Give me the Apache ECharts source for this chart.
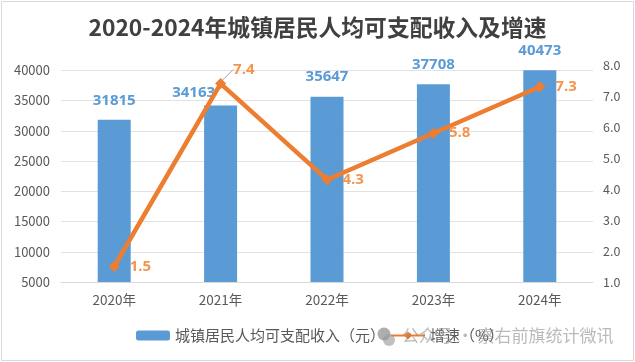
<!DOCTYPE html>
<html>
<head>
<meta charset="utf-8">
<style>
  html, body { margin: 0; padding: 0; background: #fff; }
  #chart { width: 635px; height: 362px; }
</style>
<script src="https://cdn.jsdelivr.net/npm/echarts@6/dist/echarts.min.js"></script>
</head>
<body>
<div id="chart"></div>
<script>
const years = ['2020年', '2021年', '2022年', '2023年', '2024年'];
const income = [31815, 34163, 35647, 37708, 40473];
const growth = [1.5, 7.4, 4.3, 5.8, 7.3];

const cjk = '"Noto Sans CJK SC", sans-serif';
const blue = '#5b9bd5';
const orange = '#ed7d31';

const chart = echarts.init(document.getElementById('chart'), null, { renderer: 'canvas' });

chart.setOption({
  animation: false,
  backgroundColor: '#fff',
  textStyle: { fontFamily: cjk },
  title: {
    text: '2020-2024年城镇居民人均可支配收入及增速',
    left: 'center',
    top: 11,
    textStyle: { fontFamily: cjk, fontSize: 22.8, fontWeight: 'bold', color: '#404040' },
  },
  legend: {
    bottom: 14,
    left: 131,
    itemGap: 5,
    itemWidth: 34,
    itemHeight: 10,
    textStyle: { color: '#595959', fontSize: 15, fontFamily: cjk },
    data: ['城镇居民人均可支配收入（元）', '增速（%）'],
  },
  grid: [
    { left: 61, right: 42, top: 70.3, bottom: 80 },
    { left: 61, right: 42, top: 65, bottom: 80 },
  ],
  xAxis: [
    {
      type: 'category',
      gridIndex: 0,
      data: years,
      axisTick: { show: false },
      axisLine: { lineStyle: { color: '#d9d9d9' } },
      axisLabel: { color: '#595959', fontSize: 13.5, margin: 11 },
    },
    { type: 'category', gridIndex: 1, data: years, show: false },
  ],
  yAxis: [
    {
      type: 'value',
      gridIndex: 0,
      min: 5000,
      max: 40000,
      interval: 5000,
      axisLine: { show: false },
      axisTick: { show: false },
      axisLabel: {
        color: '#595959',
        fontSize: 13,
        margin: 11,
        formatter: v => String(v),
      },
      splitLine: { lineStyle: { color: '#e2e2e2', width: 1 } },
    },
    {
      type: 'value',
      gridIndex: 1,
      position: 'right',
      min: 1,
      max: 8,
      interval: 1,
      axisLine: { show: false },
      axisTick: { show: false },
      splitLine: { show: false },
      axisLabel: { color: '#595959', fontSize: 12.5, margin: 10, formatter: v => v.toFixed(1) },
    },
  ],
  series: [
    {
      name: '城镇居民人均可支配收入（元）',
      type: 'bar',
      xAxisIndex: 0,
      yAxisIndex: 0,
      barWidth: 33,
      itemStyle: { color: blue },
      label: {
        show: true,
        position: 'top',
        distance: 12,
        color: blue,
        fontSize: 15,
        fontWeight: 'bold',
        fontFamily: '"Open Sans", sans-serif',
      },
      labelLayout: params => (params.dataIndex === 1 ? { dx: -27, dy: 7 } : {}),
      data: income,
    },
    {
      name: '增速（%）',
      type: 'line',
      xAxisIndex: 1,
      yAxisIndex: 1,
      symbol: 'diamond',
      symbolSize: 11,
      lineStyle: { color: orange, width: 4.5 },
      itemStyle: { color: orange },
      label: {
        show: true,
        position: 'right',
        distance: 10,
        color: '#f4954f',
        fontSize: 15,
        fontWeight: 'bold',
        fontFamily: '"Open Sans", sans-serif',
      },
      labelLayout: params => (params.dataIndex === 1 ? { dx: -3, dy: -14 } : {}),
      // 只有2021年的标签带引导线
      data: growth.map((v, i) => ({
        value: v,
        labelLine: { show: i === 1, lineStyle: { color: '#a6a6a6', width: 1 } },
      })),
    },
  ],
  graphic: [
    {
      type: 'rect',
      silent: true,
      z: 20,
      shape: { x: 1.5, y: 1.5, width: 632, height: 359 },
      style: { fill: 'none', stroke: '#d9d9d9', lineWidth: 1 },
    },
    // 水印
    {
      type: 'circle',
      silent: true,
      z: 21,
      shape: { cx: 384, cy: 334, r: 6.5 },
      style: { fill: 'rgba(120,120,120,0.6)' },
    },
    {
      type: 'circle',
      silent: true,
      z: 21,
      shape: { cx: 389, cy: 340, r: 6 },
      style: { fill: 'rgba(150,150,150,0.6)' },
    },
    {
      type: 'text',
      silent: true,
      z: 21,
      x: 402,
      y: 336,
      style: {
        text: '公众号 · 察右前旗统计微讯',
        fill: 'rgba(130,130,130,0.55)',
        fontSize: 17,
        fontFamily: cjk,
        verticalAlign: 'middle',
      },
    },
  ],
});

window.addEventListener('resize', () => chart.resize());
</script>
</body>
</html>
